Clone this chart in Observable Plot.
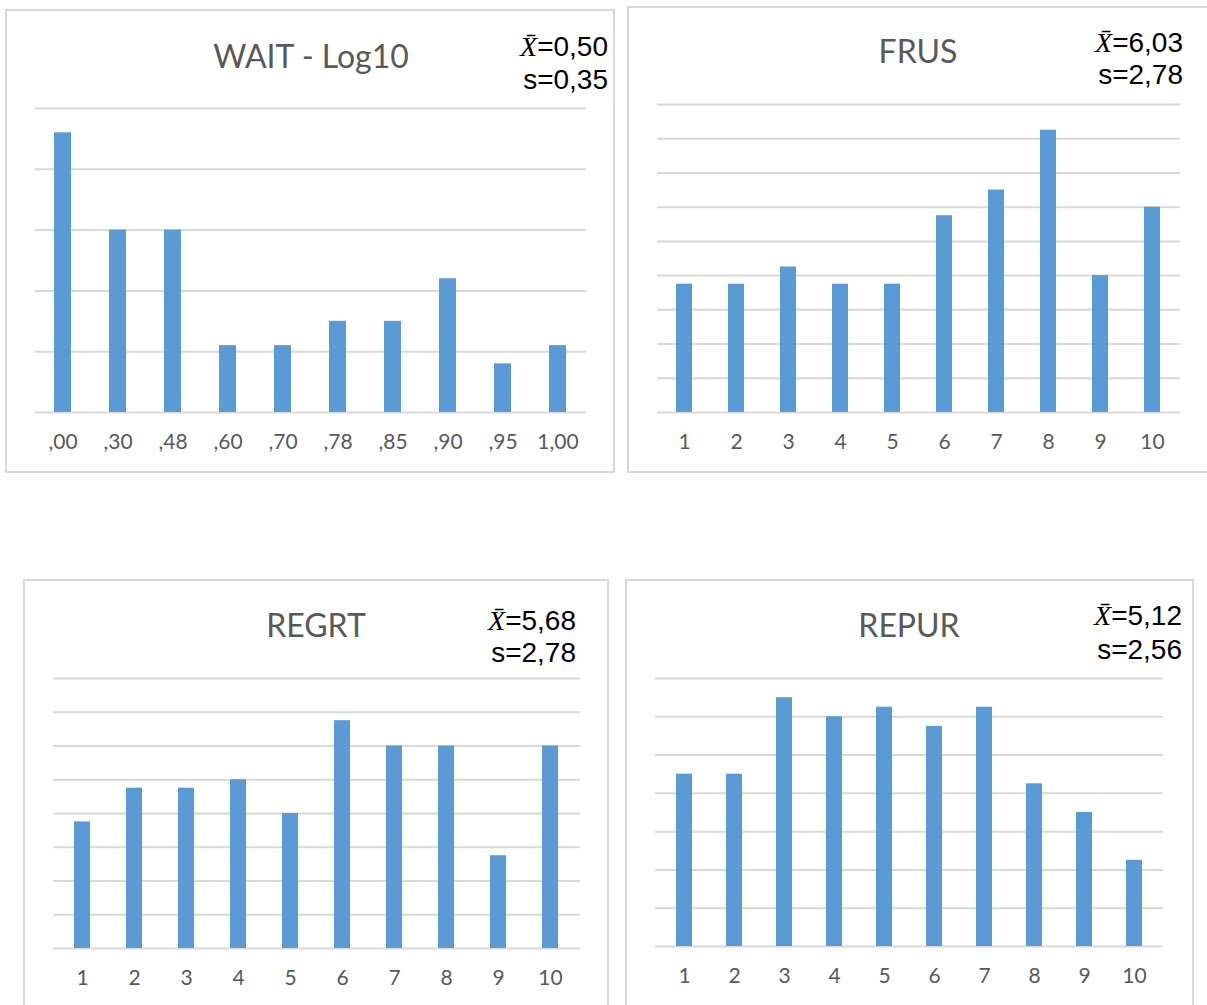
<!DOCTYPE html>
<html>
<head>
<meta charset="utf-8">
<script src="https://cdn.jsdelivr.net/npm/d3@7"></script>
<script src="https://cdn.jsdelivr.net/npm/@observablehq/plot@0.6"></script>
<style>
  html, body { margin: 0; padding: 0; background: #fff; }
  #page { position: relative; width: 1207px; height: 1005px; overflow: hidden; background: #fff; }
  .frame { position: absolute; border: 2px solid #d9d9d9; box-sizing: border-box; }
  .title { position: absolute; transform: translate(-50%, -50%); font-family: Lato, "Open Sans", sans-serif; font-size: 32px; color: #595959; white-space: nowrap; }
  .stat { position: absolute; transform: translate(-100%, -50%); font-family: "Liberation Sans", Arial, sans-serif; font-size: 28px; color: #000; white-space: nowrap; }
  .xbar { font-family: "Liberation Serif", "DejaVu Serif", serif; font-style: italic; }
  .plot { position: absolute; }
</style>
</head>
<body>
<div id="page"></div>
<script>
// ---- data ----
const waitCats = [",00", ",30", ",48", ",60", ",70", ",78", ",85", ",90", ",95", "1,00"];
const waitCounts = [46, 30, 30, 11, 11, 15, 15, 22, 8, 11];
const scaleCats = ["1", "2", "3", "4", "5", "6", "7", "8", "9", "10"];
const frusCounts = [15, 15, 17, 15, 15, 23, 26, 33, 16, 24];
const regrtCounts = [15, 19, 19, 20, 16, 27, 24, 24, 11, 24];
const repurCounts = [18, 18, 26, 24, 25, 23, 25, 17, 14, 9];
const waitTicks = [0, 10, 20, 30, 40, 50];
const frusTicks = [0, 4, 8, 12, 16, 20, 24, 28, 32, 36];
const regrtTicks = [0, 4, 8, 12, 16, 20, 24, 28, 32];
const repurTicks = [0, 4, 8, 12, 16, 20, 24, 28];
const titles = ["WAIT - Log10", "FRUS", "REGRT", "REPUR"];
const means = ["0,50", "6,03", "5,68", "5,12"];
const sds = ["0,35", "2,78", "2,78", "2,56"];

// ---- layout ----
const panels = [
  {cats: waitCats, counts: waitCounts, ticks: waitTicks, frame: [5, 9, 615, 473], grid: [35, 108, 586, 412], title: [311, 55], stat: [608, 47, 80]},
  {cats: scaleCats, counts: frusCounts, ticks: frusTicks, frame: [627, 6, 1215, 473], grid: [657, 104, 1180, 412], title: [918, 50], stat: [1183, 43, 75]},
  {cats: scaleCats, counts: regrtCounts, ticks: regrtTicks, frame: [23, 579, 609, 1020], grid: [53, 678, 580, 948], title: [316, 624], stat: [576, 621, 653]},
  {cats: scaleCats, counts: repurCounts, ticks: repurTicks, frame: [625, 579, 1194, 1020], grid: [655, 678, 1163, 946], title: [909, 624], stat: [1182, 616, 650]}
];

const page = document.getElementById("page");
panels.forEach((p, i) => {
  const fr = document.createElement("div");
  fr.className = "frame";
  fr.style.left = p.frame[0] + "px";
  fr.style.top = p.frame[1] + "px";
  fr.style.width = (p.frame[2] - p.frame[0]) + "px";
  fr.style.height = (p.frame[3] - p.frame[1]) + "px";
  page.appendChild(fr);

  const data = p.cats.map((c, k) => ({cat: c, n: p.counts[k]}));
  const m = 10, mb = 50;
  const [x0, y0, x1, y1] = p.grid;
  const chart = Plot.plot({
    width: x1 - x0 + 2 * m,
    height: y1 - y0 + m + mb,
    marginLeft: m, marginRight: m, marginTop: m, marginBottom: mb,
    style: {fontFamily: "Lato, 'Open Sans', sans-serif", color: "#595959", background: "transparent"},
    x: {domain: p.cats, paddingInner: 0.69, paddingOuter: 0.345, axis: null},
    y: {domain: [0, p.ticks[p.ticks.length - 1]], axis: null},
    marks: [
      Plot.ruleY(p.ticks, {stroke: "#d9d9d9", strokeWidth: 2}),
      Plot.barY(data, {x: "cat", y: "n", fill: "#5b9bd5"}),
      Plot.axisX({tickSize: 0, tickPadding: 22, fontSize: 21, anchor: "bottom", label: null})
    ]
  });
  chart.classList.add("plot");
  chart.style.left = (x0 - m) + "px";
  chart.style.top = (y0 - m) + "px";
  page.appendChild(chart);

  const t = document.createElement("div");
  t.className = "title";
  t.textContent = titles[i];
  t.style.left = p.title[0] + "px";
  t.style.top = p.title[1] + "px";
  page.appendChild(t);

  const s1 = document.createElement("div");
  s1.className = "stat";
  s1.innerHTML = '<span class="xbar">X\u0304</span>=' + means[i];
  s1.style.left = p.stat[0] + "px";
  s1.style.top = p.stat[1] + "px";
  page.appendChild(s1);

  const s2 = document.createElement("div");
  s2.className = "stat";
  s2.textContent = "s=" + sds[i];
  s2.style.left = p.stat[0] + "px";
  s2.style.top = p.stat[2] + "px";
  page.appendChild(s2);
});
</script>
</body>
</html>
